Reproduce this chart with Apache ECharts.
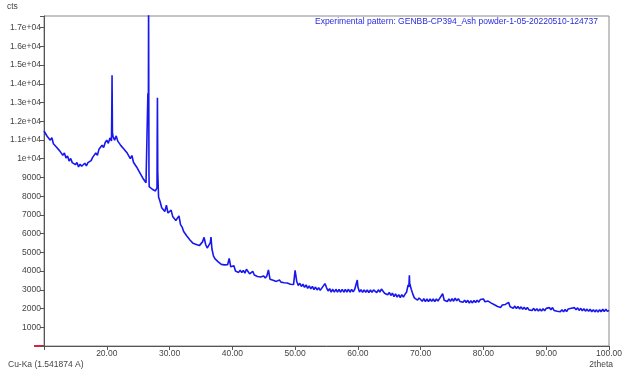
<!DOCTYPE html>
<html>
<head>
<meta charset="utf-8">
<script src="https://cdn.jsdelivr.net/npm/echarts@6/dist/echarts.min.js"></script>
<style>
  html, body { margin: 0; padding: 0; background: #fff; }
  #chart { width: 625px; height: 374px; }
</style>
</head>
<body>
<div id="chart"></div>
<script>
// scan grid: 10.00 .. 100.00 deg 2theta, 0.25 deg per reading
const scanStart = 10
const scanStep = 0.25

// counts, one row per 2.5 deg
const counts = [
  11480, 11390, 11200, 11280, 10990, 11120, 10800, 10900, 10610, 10640,
  10420, 10510, 10190, 10300, 10040, 10150, 9880, 10010, 9790, 9890,
  9680, 9800, 9560, 9710, 9600, 9540, 9760, 9620, 9790, 9850,
  9900, 10070, 9990, 10310, 10180, 10500, 10400, 10720, 10600, 10870,
  10990, 10820, 11110, 10950, 11180, 10990, 11220, 10940, 10980, 10700,
  10800, 10510, 10610, 10300, 10370, 10010, 10170, 9810, 9900, 9560,
  9600, 9260, 9310, 8960, 9010, 8720, 8800, 8510, 8560, 8370,
  8400, 8280, 8450, 7950, 7700, 7380, 7350, 7180, 7520, 7100,
  7080, 7250, 6920, 6880, 6700, 6750, 6950, 6480, 6350, 6110,
  6060, 5870, 5840, 5660, 5650, 5480, 5560, 5420, 5500, 5360,
  5380, 5560, 5800, 5420, 5230, 5290, 5520, 5180, 4800, 4650,
  4620, 4490, 4480, 4360, 4430, 4330, 4380, 4340, 4680, 4230,
  4200, 4290, 4000, 4090, 3930, 4050, 3920, 4030, 3890, 4100,
  3980, 3850, 3950, 3990, 3790, 3870, 3710, 3800, 3680, 3770,
  3740, 3630, 3740, 4060, 3570, 3650, 3510, 3600, 3450, 3540,
  3520, 3410, 3500, 3380, 3470, 3360, 3430, 3300, 3390, 3280,
  4040, 3460, 3230, 3350, 3180, 3300, 3130, 3260, 3080, 3210,
  3050, 3180, 3010, 3150, 2990, 3120, 2970, 3090, 3060, 3330,
  3120, 2940, 3060, 2880, 3030, 2870, 3030, 2880, 3020, 2870,
  3030, 2870, 3020, 2880, 3030, 2870, 3020, 2890, 3030, 3100,
  3160, 2880, 3010, 2860, 3000, 2870, 2990, 2850, 2990, 2860,
  3000, 3030, 2850, 3000, 2880, 3040, 3080, 2820, 2920, 2740,
  2860, 2700, 2820, 2640, 2780, 2610, 2740, 2590, 2740, 2610,
  2760, 2870, 3260, 3350, 3030, 2770, 2570, 2650, 2450, 2560,
  2540, 2390, 2530, 2370, 2510, 2370, 2510, 2380, 2510, 2370,
  2510, 2400, 2530, 2560, 2790, 2440, 2530, 2370, 2520, 2380,
  2530, 2390, 2550, 2410, 2530, 2380, 2480, 2340, 2450, 2320,
  2440, 2290, 2420, 2300, 2430, 2320, 2450, 2340, 2480, 2400,
  2510, 2360, 2440, 2400, 2420, 2290, 2340, 2200, 2240, 2110,
  2190, 2060, 2190, 2090, 2220, 2140, 2330, 2090, 2160, 2020,
  2130, 2000, 2110, 1980, 2090, 1960, 2070, 1940, 2060, 1930,
  2030, 1900, 2010, 1880, 1990, 1860, 1980, 1860, 1990, 1880,
  2010, 1910, 2050, 1940, 2050, 1900, 2000, 1860, 1960, 1830,
  1940, 1820, 1950, 1840, 1980, 1880, 2020, 1920, 2050, 1930,
  2040, 1900, 2010, 1880, 1990, 1860, 1970, 1850, 1960, 1830,
  1940, 1820, 1930, 1810, 1940, 1830, 1960, 1840, 1970, 1850,
  1900
]

// sharp reflections, read between the grid steps
const peakAngles = [20.8, 20.84, 20.9, 26.55, 26.62, 26.66, 26.72, 28.03, 28.07, 28.12, 36.6, 59.9, 68.12, 68.2]
const peakCounts = [12600, 14450, 11400, 13500, 12000, 18500, 9200, 11000, 13250, 9300, 5820, 3520, 3150, 3780]

const yTicks = [1000, 2000, 3000, 4000, 5000, 6000, 7000, 8000, 9000, 10000, 11000, 12000, 13000, 14000, 15000, 16000, 17000]

const points = counts.map((c, i) => [+(scanStart + i * scanStep).toFixed(2), c])
peakAngles.forEach((a, i) => points.push([a, peakCounts[i]]))
points.sort((a, b) => a[0] - b[0])

const font = "'Liberation Sans', Arial, sans-serif"
const chart = echarts.init(document.getElementById("chart"), null, { renderer: "canvas" })

chart.setOption({
  animation: false,
  backgroundColor: "#fff",
  grid: {
    left: 44,
    right: 11,
    top: 16,
    bottom: 28,
    show: true,
    borderColor: "#8a8a8a",
    borderWidth: 1,
  },
  xAxis: {
    type: "value",
    min: 10,
    max: 100,
    interval: 10,
    splitLine: { show: false },
    axisLine: { lineStyle: { color: "#555", width: 1 } },
    axisTick: { length: 4, lineStyle: { color: "#555" } },
    axisLabel: {
      margin: 3,
      fontSize: 8.5,
      fontFamily: font,
      color: "#444",
      formatter: (v) => (v === 10 ? "" : v.toFixed(2)),
    },
  },
  yAxis: {
    type: "value",
    min: 0,
    max: 17620,
    interval: 1000,
    splitLine: { show: false },
    axisLine: { show: true, lineStyle: { color: "#555", width: 1 } },
    axisTick: { show: true, length: 4, lineStyle: { color: "#555" } },
    axisLabel: {
      margin: 3,
      fontSize: 8.5,
      fontFamily: font,
      color: "#444",
      formatter: (v) => {
        if (!yTicks.includes(v)) return ""
        if (v >= 10000) return parseFloat((v / 10000).toFixed(2)) + "e+04"
        return String(v)
      },
    },
  },
  series: [
    {
      type: "line",
      data: points,
      showSymbol: false,
      clip: true,
      lineStyle: { color: "#1818ee", width: 1.6 },
    },
  ],
  graphic: [
    { type: "text", left: 7, top: 2, style: { text: "cts", fontSize: 8.5, fontFamily: font, fill: "#444" } },
    { type: "text", left: 8, top: 360, style: { text: "Cu-Ka (1.541874 A)", fontSize: 8.5, fontFamily: font, fill: "#444" } },
    { type: "text", right: 12, top: 360, style: { text: "2theta", fontSize: 8.5, fontFamily: font, fill: "#444" } },
    {
      type: "text",
      right: 27,
      top: 17,
      style: {
        text: "Experimental pattern: GENBB-CP394_Ash powder-1-05-20220510-124737",
        fontSize: 8.5,
        fontFamily: font,
        fill: "#2a2ae0",
      },
    },
    { type: "line", shape: { x1: 34, y1: 346, x2: 44, y2: 346 }, style: { stroke: "#e0203a", lineWidth: 2 } },
  ],
})
</script>
</body>
</html>
